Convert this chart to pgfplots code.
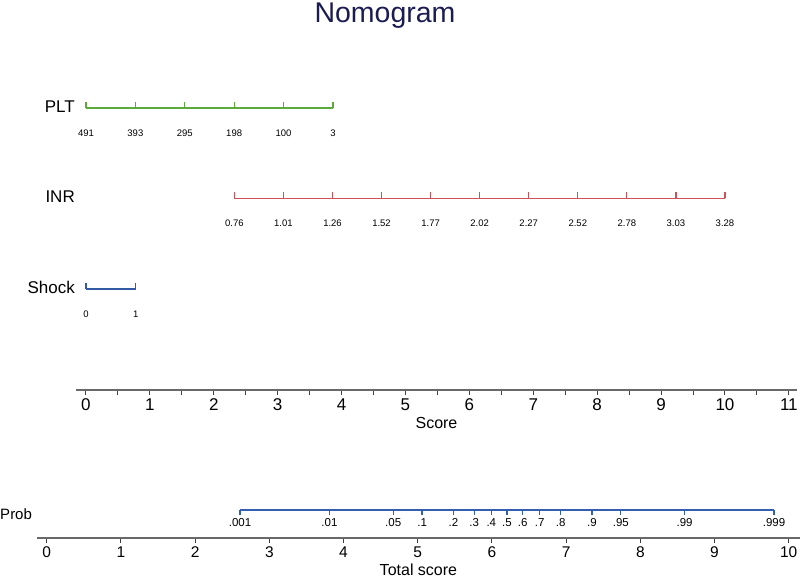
\documentclass[border=0pt]{standalone}
\usepackage{fontspec}
\setmainfont{Liberation Sans}
\usepackage{pgfplots}
\pgfplotsset{compat=1.18}

\definecolor{pltgreen}{RGB}{92,170,60}
\definecolor{inrred}{RGB}{208,80,88}
\definecolor{shockblue}{RGB}{50,90,165}
\definecolor{probblue}{RGB}{50,95,180}
\definecolor{axisgray}{RGB}{105,105,105}
\definecolor{titlenavy}{RGB}{28,28,85}

\newcommand{\fs}[1]{\fontsize{#1}{#1}\selectfont}

\pgfplotsset{
  nomo/.style={
    clip=false,
    axis x line=bottom,
    axis y line=none,
    axis line style={-, draw=axisgray, line width=1.8pt},
    tick align=outside,
    major tick length=5pt,
    minor tick length=5pt,
    every tick/.style={draw=black!75, line width=1pt},
    /pgf/number format/assume math mode=true,
  },
  % one row of the nomogram: line, upward ticks, labels below
  row/.style={
    line width=1.4pt, color=#1,
    mark=|, mark size=3pt,
    mark options={yshift=3pt, solid, line width=1.3pt},
    point meta=explicit symbolic,
    nodes near coords,
    every node near coord/.append style={anchor=center, yshift=-28pt,
      text=black, font=\fs{9.5}},
  },
}

\begin{document}
\begin{tikzpicture}[x=1pt,y=1pt]
\path[use as bounding box] (0,0) rectangle (800,578);

\node[anchor=base, font=\fs{28.5}, text=titlenavy] at (385,555) {Nomogram};

% points axis with the three predictors
\begin{axis}[nomo,
  at={(76pt,188pt)}, anchor=south west,
  x=63.9pt, y=1pt,
  xmin=-0.156, xmax=11.127, ymin=188, ymax=578,
  xtick={0,1,...,11},
  minor xtick={0.5,1.5,...,10.5},
  xticklabel style={font=\fs{17}},
  xlabel={Score},
  xlabel style={font=\fs{16}},
]
\addplot[row=pltgreen] coordinates {
  (0,470) [491] (0.773,470) [393] (1.546,470) [295]
  (2.319,470) [198] (3.092,470) [100] (3.865,470) [3]
};
\addplot[row=inrred] coordinates {
  (2.322,379.5) [0.76] (3.090,379.5) [1.01] (3.858,379.5) [1.26]
  (4.625,379.5) [1.52] (5.393,379.5) [1.77] (6.161,379.5) [2.02]
  (6.929,379.5) [2.27] (7.697,379.5) [2.52] (8.464,379.5) [2.78]
  (9.232,379.5) [3.03] (10.0,379.5) [3.28]
};
\addplot[row=shockblue] coordinates {
  (0,289) [0] (0.78,289) [1]
};
\node[anchor=base east, inner sep=0pt, font=\fs{17}] at (axis cs:-0.172,465.5) {PLT};
\node[anchor=base east, inner sep=0pt, font=\fs{17}] at (axis cs:-0.172,375) {INR};
\node[anchor=base east, inner sep=0pt, font=\fs{17}] at (axis cs:-0.172,284.5) {Shock};
\end{axis}

% total points and probability
\begin{axis}[nomo,
  at={(37pt,40pt)}, anchor=south west,
  x=74.2pt, y=1pt,
  xmin=-0.131, xmax=10.15, ymin=40, ymax=90,
  xtick={0,1,...,10},
  xticklabel style={font=\fs{15.5}},
  xlabel={Total score},
  xlabel style={font=\fs{16}},
]
\addplot[line width=1.3pt, color=probblue,
  mark=|, mark size=2.5pt, mark options={yshift=-2.5pt, solid},
  point meta=explicit symbolic, nodes near coords,
  every node near coord/.append style={anchor=center, yshift=-10pt,
    text=black, font=\fs{11.5}}]
coordinates {
  (2.605,68) [.001] (3.810,68) [.01] (4.670,68) [.05] (5.059,68) [.1]
  (5.481,68) [.2] (5.762,68) [.3] (5.992,68) [.4] (6.203,68) [.5]
  (6.415,68) [.6] (6.645,68) [.7] (6.926,68) [.8] (7.348,68) [.9]
  (7.737,68) [.95] (8.597,68) [.99] (9.802,68) [.999]
};
\node[anchor=west, inner sep=0pt, font=\fs{15}] at (axis cs:-0.629,64) {Prob};
\end{axis}
\end{tikzpicture}
\end{document}
